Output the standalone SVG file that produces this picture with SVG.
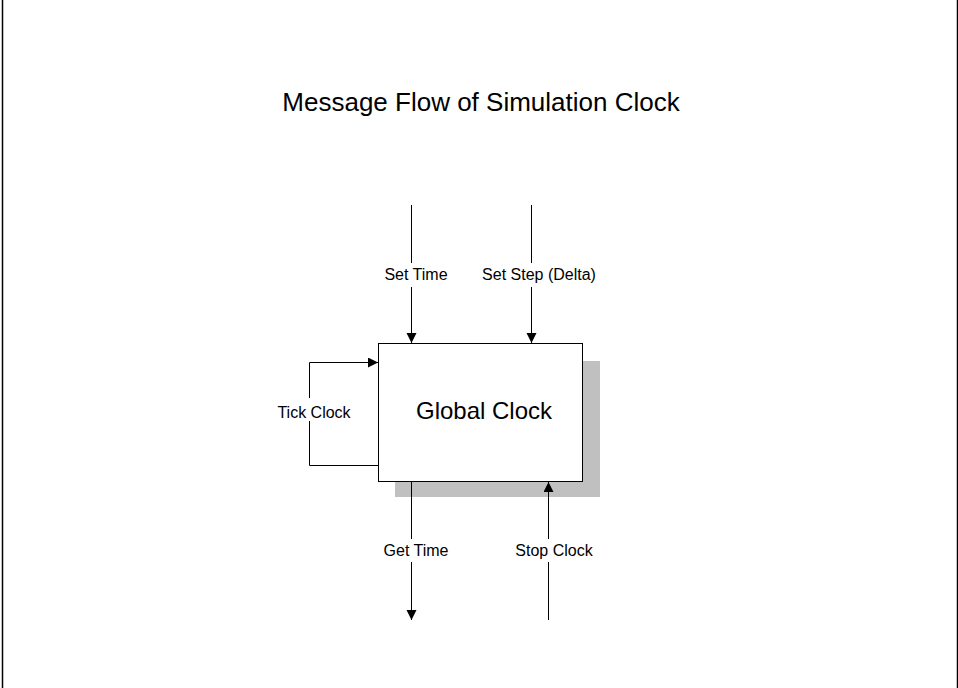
<svg xmlns="http://www.w3.org/2000/svg" width="958" height="688" viewBox="0 0 958 688">
<style>
text{font-family:"Liberation Sans",Arial,sans-serif;fill:#000}
.lbl{font-size:16px;text-anchor:middle}
.conn{fill:none;stroke:#000;stroke-width:1}
</style>
<defs>
<marker id="ah" markerUnits="userSpaceOnUse" markerWidth="11" markerHeight="11" refX="10" refY="5" orient="auto">
<path d="M0,0 L10,5 L0,10 z" fill="#000"/>
</marker>
</defs>
<rect x="2.5" y="-2" width="955" height="692" fill="#fff" stroke="#000" stroke-width="1.5"/>
<text x="481" y="111" font-size="26" text-anchor="middle">Message Flow of Simulation Clock</text>
<g id="global-clock">
<rect x="395" y="361" width="205" height="136" fill="#c0c0c0"/>
<rect x="378.5" y="343.5" width="204" height="138" fill="#fff" stroke="#000" stroke-width="1"/>
<text x="484" y="419" font-size="24" text-anchor="middle">Global Clock</text>
</g>
<g id="connectors">
<path class="conn" d="M411.5,205 V263 M411.5,287 V343" marker-end="url(#ah)"/>
<path class="conn" d="M531.5,205 V263 M531.5,287 V343" marker-end="url(#ah)"/>
<path class="conn" d="M378,465.5 H309.5 V421 M309.5,398 V362.5 H378" marker-end="url(#ah)"/>
<path class="conn" d="M411.5,482 V539 M411.5,562 V620" marker-end="url(#ah)"/>
<path class="conn" d="M548.5,620 V562 M548.5,539 V482" marker-end="url(#ah)"/>
</g>
<g id="labels">
<text class="lbl" x="416" y="280">Set Time</text>
<text class="lbl" x="539" y="280">Set Step (Delta)</text>
<text class="lbl" x="314" y="418">Tick Clock</text>
<text class="lbl" x="416" y="556">Get Time</text>
<text class="lbl" x="554" y="556">Stop Clock</text>
</g>
</svg>
